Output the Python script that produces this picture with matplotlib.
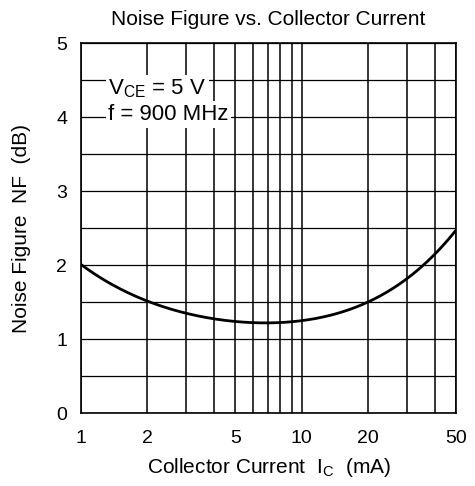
import matplotlib

matplotlib.use("Agg")
import matplotlib.pyplot as plt
import numpy as np
from matplotlib.ticker import FixedLocator, NullFormatter

plt.rcParams["font.family"] = ["Liberation Sans", "DejaVu Sans"]

# collector current (mA) and noise figure (dB)
ic_ma = [1, 1.5, 2, 3, 4, 5, 6, 7, 8, 10, 15, 20, 30, 40, 50]
nf_db = [2.0, 1.7, 1.51, 1.34, 1.27, 1.235, 1.22, 1.22, 1.225, 1.25, 1.37, 1.51, 1.8, 2.14, 2.48]

x_major = [1, 2, 5, 10, 20, 50]
x_grid = [1, 2, 3, 4, 5, 6, 7, 8, 9, 10, 20, 30, 40, 50]
y_major = [0, 1, 2, 3, 4, 5]
y_grid = [0, 0.5, 1, 1.5, 2, 2.5, 3, 3.5, 4, 4.5, 5]

fig = plt.figure(figsize=(4.75, 4.86), dpi=100)
ax = fig.add_axes([0.1705, 0.150, 0.7895, 0.7615])

ax.set_xscale("log")
ax.set_xlim(1, 50)
ax.set_ylim(0, 5)

for xv in x_grid:
    ax.axvline(xv, color="black", lw=1.1, zorder=1)
for yv in y_grid:
    ax.axhline(yv, color="black", lw=0.9, zorder=1)

# smooth the read points in log-x for a clean curve
lx = np.log10(ic_ma)
xs = np.linspace(lx[0], lx[-1], 300)
coef = np.polyfit(lx, nf_db, 4)
ax.plot(10 ** xs, np.polyval(coef, xs), color="black", lw=2.0, zorder=3)

ax.xaxis.set_major_locator(FixedLocator(x_major))
ax.xaxis.set_minor_locator(FixedLocator([]))
ax.xaxis.set_minor_formatter(NullFormatter())
ax.set_xticks(x_major)
ax.set_xticklabels([str(v) for v in x_major])
ax.set_yticks(y_major)
ax.tick_params(length=0, labelsize=14)
ax.tick_params(axis="x", pad=12)
ax.tick_params(axis="y", pad=10)

for s in ax.spines.values():
    s.set_linewidth(1.2)

ax.set_title("Noise Figure vs. Collector Current", fontsize=15, pad=13)
ax.set_xlabel("Collector Current  $\\mathregular{I_C}$  (mA)", fontsize=15, labelpad=7)
ax.set_ylabel("Noise Figure  NF  (dB)", fontsize=15, labelpad=18)

box = dict(facecolor="white", edgecolor="none", pad=2.0)
ax.text(1.33, 4.30, "$\\mathregular{V_{CE}}$ = 5 V", fontsize=16,
        ha="left", va="baseline", zorder=4, bbox=box)
ax.text(1.33, 3.96, "f = 900 MHz", fontsize=16,
        ha="left", va="baseline", zorder=4, bbox=box)

fig.savefig("out.png", dpi=100)
plt.close(fig)
